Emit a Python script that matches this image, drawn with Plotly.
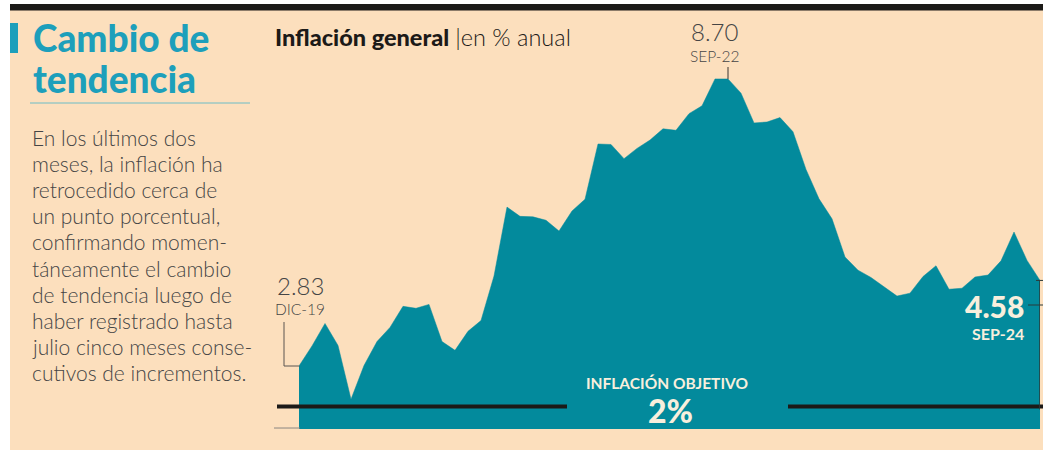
import plotly.graph_objects as go
import pandas as pd

# ---------------- data ----------------
months = [d.strftime("%Y-%m") for d in pd.date_range("2019-12-01", "2024-09-01", freq="MS")]
inflation = [2.83,
             3.24, 3.70, 3.25, 2.15, 2.84, 3.33, 3.62, 4.05, 4.01, 4.09, 3.33, 3.15,
             3.54, 3.76, 4.67, 6.08, 5.89, 5.88, 5.81, 5.59, 6.00, 6.24, 7.37, 7.36,
             7.07, 7.28, 7.45, 7.68, 7.65, 7.99, 8.15, 8.70, 8.70, 8.41, 7.80, 7.82,
             7.91, 7.62, 6.85, 6.25, 5.84, 5.06, 4.79, 4.64, 4.45, 4.26, 4.32, 4.66,
             4.88, 4.40, 4.42, 4.65, 4.69, 4.98, 5.57, 4.99, 4.58]
target = 2.0
body_lines = ["En los últimos dos", "meses, la inflación ha", "retrocedido cerca de",
              "un punto porcentual,", "confirmando momen-", "táneamente el cambio",
              "de tendencia luego de", "haber registrado hasta", "julio cinco meses conse-",
              "cutivos de incrementos."]

# ---------------- style ----------------
W, H = 1043, 450
L, R, T, B = 299, 3, 10, 21
PW, PH = W - L - R, H - T - B
YMIN, YMAX = 1.542, 10.11
PEACH = "#fcdfbd"
TEAL = "#038a9c"
TITLE_TEAL = "#1d9fbb"
CREAM = "#f8efdd"
DARK = "#454545"
FONT = "Lato"

def px(x):
    return (x - L) / PW

def py(y):
    return (H - B - y) / PH

xs = list(range(len(months)))

fig = go.Figure()
fig.add_trace(go.Scatter(x=xs, y=inflation, mode="lines", fill="tozeroy",
                         line=dict(color=TEAL, width=0.5), fillcolor=TEAL,
                         hoverinfo="skip", showlegend=False,
                         customdata=months))

shapes = []
# white left margin & top strip, black top bar
shapes.append(dict(type="rect", xref="paper", yref="paper", x0=px(0), x1=px(10), y0=py(H), y1=py(0),
                   fillcolor="white", line=dict(width=0), layer="below"))
shapes.append(dict(type="rect", xref="paper", yref="paper", x0=px(0), x1=px(W), y0=py(4), y1=py(0),
                   fillcolor="white", line=dict(width=0), layer="below"))
shapes.append(dict(type="rect", xref="paper", yref="paper", x0=px(10), x1=px(W), y0=py(10.5), y1=py(4),
                   fillcolor="#1c1a18", line=dict(width=0)))
# teal bar next to title
shapes.append(dict(type="rect", xref="paper", yref="paper", x0=px(10), x1=px(18), y0=py(53), y1=py(23),
                   fillcolor=TITLE_TEAL, line=dict(width=0)))
# title separator
shapes.append(dict(type="line", xref="paper", yref="paper", x0=px(30), x1=px(250), y0=py(103), y1=py(103),
                   line=dict(color="#6cbcc6", width=1)))
# baseline stub
shapes.append(dict(type="line", xref="paper", yref="y", x0=px(274), x1=px(300), y0=YMIN + 0.02, y1=YMIN + 0.02,
                   line=dict(color="#8a8580", width=1)))
# 2% target line (two segments)
for a, b in [(277, 567), (788, W)]:
    shapes.append(dict(type="line", xref="paper", yref="y", x0=px(a), x1=px(b), y0=target, y1=target,
                       line=dict(color="#1c1a18", width=4)))
# DIC-19 connector
shapes.append(dict(type="line", xref="paper", yref="y", x0=px(284), x1=px(299.5), y0=inflation[0], y1=inflation[0],
                   line=dict(color="#5a5550", width=1)))
shapes.append(dict(type="line", xref="paper", yref="paper", x0=px(284), x1=px(284), y0=py(322), y1=py(366),
                   line=dict(color="#5a5550", width=1)))
# SEP-22 tick
i_peak = months.index("2022-09")
shapes.append(dict(type="line", xref="x", yref="paper", x0=i_peak, x1=i_peak, y0=py(67), y1=py(79),
                   line=dict(color="#3a3530", width=1)))
# SEP-24 connector
i_last = len(months) - 1
shapes.append(dict(type="line", xref="x", yref="y", x0=i_last, x1=i_last, y0=inflation[-1], y1=YMIN + 0.4,
                   line=dict(color="#2a3a3a", width=1.5)))
shapes.append(dict(type="line", xref="paper", yref="y", x0=px(1036), x1=px(W), y0=inflation[-1], y1=inflation[-1],
                   line=dict(color="#2a3a3a", width=1)))
shapes.append(dict(type="line", xref="paper", yref="paper", x0=px(1028), x1=px(W), y0=py(305), y1=py(305),
                   line=dict(color="#2a3a3a", width=1)))

ann = []
def text(x, y, s, size, color, anchor="left", weight=None, family=FONT):
    f = dict(family=family, size=size, color=color)
    if weight:
        f["weight"] = weight
    ann.append(dict(xref="paper", yref="paper", x=px(x), y=py(y), text=s, showarrow=False,
                    xanchor=anchor, yanchor="middle", font=f))

text(31, 37, "Cambio de", 37, TITLE_TEAL, weight=900)
text(31, 79, "tendencia", 37, TITLE_TEAL, weight=900)
for k, line in enumerate(body_lines):
    text(30, 137 + k * 26.2, line, 21, DARK, weight=300)
text(273, 37, "<span style='font-weight:900'>Inflación general</span> <span style='font-weight:300'>|en % anual</span>",
     23.5, "#1c1a18")
text(714, 31, "8.70", 24, DARK, anchor="center", weight=300)
text(714, 56, "SEP-22", 15.5, DARK, anchor="center", weight=300)
text(300, 285, "2.83", 24, DARK, anchor="center", weight=300)
text(300, 309, "DIC-19", 15.5, DARK, anchor="center", weight=300)
text(1026, 306, "4.58", 30, CREAM, anchor="right", weight=900)
text(1026, 333, "SEP-24", 16, CREAM, anchor="right", weight=700)
text(667, 383, "INFLACIÓN OBJETIVO", 15.5, CREAM, anchor="center", weight=700)
text(670, 410, "2%", 32, CREAM, anchor="center", weight=900)

fig.update_layout(
    width=W, height=H, margin=dict(l=L, r=R, t=T, b=B),
    paper_bgcolor=PEACH, plot_bgcolor=PEACH,
    shapes=shapes, annotations=ann, showlegend=False,
    xaxis=dict(range=[0, len(months) - 1], visible=False, fixedrange=True),
    yaxis=dict(range=[YMIN, YMAX], visible=False, fixedrange=True),
)
fig.write_html("out.html")
